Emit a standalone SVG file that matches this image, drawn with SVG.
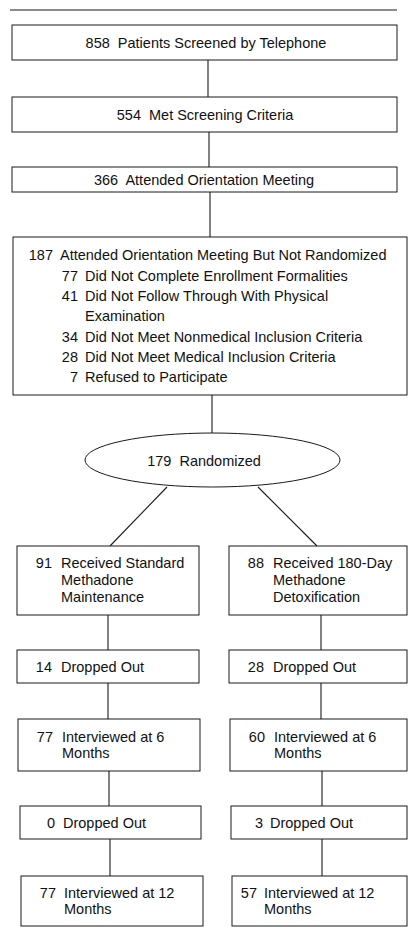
<svg xmlns="http://www.w3.org/2000/svg" width="408" height="937" viewBox="0 0 408 937">
<style>
.b{fill:#fff;stroke:#1a1a1a;stroke-width:1}
.c line{stroke:#1a1a1a;stroke-width:1.1}
text{font-family:"Liberation Sans",Arial,sans-serif;font-size:14.5px;fill:#111}
.m{text-anchor:middle}
.e{text-anchor:end}
</style>
<rect width="408" height="937" fill="#fff"/>
<line x1="10" y1="10" x2="397" y2="10" stroke="#1a1a1a" stroke-width="1.2"/>
<g class="c" id="connectors">
<line x1="208" y1="60" x2="208" y2="97"/>
<line x1="209" y1="132" x2="209" y2="167"/>
<line x1="210" y1="192" x2="210" y2="237"/>
<line x1="212" y1="395" x2="212" y2="433"/>
<line x1="167" y1="487" x2="110" y2="546"/>
<line x1="258" y1="487" x2="317" y2="546"/>
<line x1="108" y1="615" x2="108" y2="650"/>
<line x1="108" y1="683" x2="108" y2="719"/>
<line x1="109" y1="771" x2="109" y2="806"/>
<line x1="110" y1="839" x2="110" y2="876"/>
<line x1="321" y1="615" x2="321" y2="650"/>
<line x1="321" y1="683" x2="321" y2="719"/>
<line x1="322" y1="771" x2="322" y2="806"/>
<line x1="322" y1="839" x2="322" y2="876"/>
</g>
<g id="n1"><rect class="b" x="12" y="25" width="385" height="35"/><text class="m" x="206" y="48" xml:space="preserve">858  Patients Screened by Telephone</text></g>
<g id="n2"><rect class="b" x="12" y="97" width="385" height="35"/><text class="m" x="205" y="120" xml:space="preserve">554  Met Screening Criteria</text></g>
<g id="n3"><rect class="b" x="12" y="167" width="385" height="25"/><text class="m" x="204" y="185" xml:space="preserve">366  Attended Orientation Meeting</text></g>
<g id="n4"><rect class="b" x="13" y="237" width="394" height="158"/>
<text class="e" x="53" y="260">187</text><text x="60" y="260">Attended Orientation Meeting But Not Randomized</text>
<text class="e" x="78" y="280.5">77</text><text x="85" y="280.5">Did Not Complete Enrollment Formalities</text>
<text class="e" x="78" y="301">41</text><text x="85" y="301">Did Not Follow Through With Physical</text>
<text x="85" y="321">Examination</text>
<text class="e" x="78" y="341.5">34</text><text x="85" y="341.5">Did Not Meet Nonmedical Inclusion Criteria</text>
<text class="e" x="78" y="362">28</text><text x="85" y="362">Did Not Meet Medical Inclusion Criteria</text>
<text class="e" x="78" y="382">7</text><text x="85" y="382">Refused to Participate</text>
</g>
<g id="n5"><ellipse class="b" cx="212.5" cy="460" rx="127.5" ry="27"/><text class="m" x="204" y="466" xml:space="preserve">179  Randomized</text></g>
<g id="n6"><rect class="b" x="17" y="546" width="182" height="69"/>
<text class="e" x="52" y="568">91</text><text x="61" y="568">Received Standard</text><text x="61" y="585">Methadone</text><text x="61" y="602">Maintenance</text></g>
<g id="n7"><rect class="b" x="229" y="546" width="178" height="69"/>
<text class="e" x="264" y="568">88</text><text x="273" y="568">Received 180-Day</text><text x="273" y="585">Methadone</text><text x="273" y="602">Detoxification</text></g>
<g id="n8"><rect class="b" x="17" y="650" width="182" height="33"/><text class="e" x="52" y="672">14</text><text x="61" y="672">Dropped Out</text></g>
<g id="n9"><rect class="b" x="229" y="650" width="178" height="33"/><text class="e" x="264" y="672">28</text><text x="273" y="672">Dropped Out</text></g>
<g id="n10"><rect class="b" x="18" y="719" width="182" height="52"/><text class="e" x="53" y="742">77</text><text x="62" y="742">Interviewed at 6</text><text x="62" y="758">Months</text></g>
<g id="n11"><rect class="b" x="230" y="719" width="177" height="52"/><text class="e" x="265" y="742">60</text><text x="274" y="742">Interviewed at 6</text><text x="274" y="758">Months</text></g>
<g id="n12"><rect class="b" x="20" y="806" width="181" height="33"/><text class="e" x="55" y="828">0</text><text x="63" y="828">Dropped Out</text></g>
<g id="n13"><rect class="b" x="231" y="806" width="176" height="33"/><text class="e" x="263" y="828">3</text><text x="270" y="828">Dropped Out</text></g>
<g id="n14"><rect class="b" x="21" y="876" width="182" height="50"/><text class="e" x="56" y="898">77</text><text x="64" y="898">Interviewed at 12</text><text x="64" y="914">Months</text></g>
<g id="n15"><rect class="b" x="232" y="876" width="175" height="50"/><text class="e" x="257" y="898">57</text><text x="264" y="898">Interviewed at 12</text><text x="264" y="914">Months</text></g>
</svg>
